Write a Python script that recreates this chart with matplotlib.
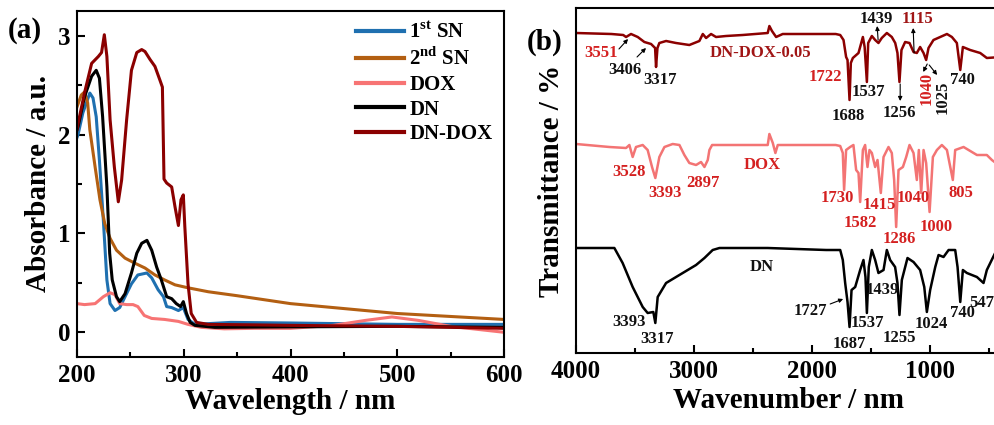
import matplotlib
matplotlib.use("Agg")
import matplotlib.pyplot as plt
from matplotlib.ticker import MultipleLocator, NullLocator

plt.rcParams['font.family'] = ['Liberation Serif', 'DejaVu Serif']
plt.rcParams['font.weight'] = 'bold'
plt.rcParams['mathtext.fontset'] = 'custom'
plt.rcParams['mathtext.rm'] = 'Liberation Serif:bold'
plt.rcParams['mathtext.bf'] = 'Liberation Serif:bold'

# ---------------- (a) UV-Vis data ----------------
wl_sn1 = [200, 201, 205.5, 212, 215, 218, 221, 224.7, 228, 231, 235.6, 240, 245, 251, 257, 265.5, 270,
          276, 281, 284, 288.7, 295, 299.6, 304, 310.5, 344, 400, 500, 600]
abs_sn1 = [1.97, 2.00, 2.22, 2.42, 2.37, 2.18, 1.74, 1.13, 0.53, 0.29, 0.22, 0.25, 0.36, 0.49, 0.58, 0.60, 0.55,
           0.43, 0.36, 0.26, 0.25, 0.22, 0.25, 0.13, 0.08, 0.10, 0.094, 0.08, 0.08]

wl_sn2 = [200, 204, 207, 210, 212, 217, 221.5, 226, 231, 237, 245, 254, 263.7, 273, 282, 291.8, 304, 323,
          350, 400, 450, 500, 550, 600]
abs_sn2 = [2.28, 2.40, 2.43, 2.32, 2.05, 1.67, 1.34, 1.10, 0.95, 0.83, 0.75, 0.70, 0.65, 0.58, 0.53, 0.48, 0.45,
           0.41, 0.37, 0.29, 0.24, 0.19, 0.16, 0.13]

wl_dox = [200, 207, 217, 224.7, 231, 235.6, 240, 246.5, 252.5, 257, 263, 270, 282, 295, 304, 316.5, 338, 366,
          400, 440, 470, 495, 520, 550, 600]
abs_dox = [0.29, 0.28, 0.29, 0.36, 0.40, 0.38, 0.29, 0.28, 0.28, 0.26, 0.17, 0.14, 0.13, 0.11, 0.08, 0.05, 0.035,
           0.04, 0.04, 0.07, 0.12, 0.155, 0.12, 0.06, 0.0]

wl_dn = [200, 201, 207, 213.7, 218, 221, 224, 228, 230.6, 233, 237, 240, 245, 251, 256, 260.6, 265.5, 270,
         274.6, 279, 284, 288.7, 293, 297, 299.6, 302.6, 306, 310.5, 329, 400, 500, 600]
abs_dn = [2.05, 2.08, 2.38, 2.59, 2.65, 2.57, 2.18, 1.47, 0.80, 0.53, 0.36, 0.31, 0.39, 0.60, 0.80, 0.90, 0.93,
          0.83, 0.66, 0.53, 0.36, 0.34, 0.29, 0.26, 0.31, 0.19, 0.10, 0.07, 0.05, 0.055, 0.06, 0.05]

wl_dndox = [200, 201, 207, 213.7, 220, 223, 225.6, 228, 231, 235, 238.7, 241.8, 246.5, 251, 256, 260.6, 263.7,
            268.4, 273, 277.7, 280, 281.5, 284, 288.7, 291.8, 295, 297.4, 299.6, 301, 304, 307, 312, 323, 366,
            400, 500, 600]
abs_dndox = [2.05, 2.11, 2.42, 2.72, 2.79, 2.83, 3.01, 2.79, 2.15, 1.67, 1.32, 1.54, 2.15, 2.65, 2.83, 2.86, 2.84,
             2.76, 2.69, 2.55, 2.48, 1.55, 1.51, 1.47, 1.27, 1.08, 1.34, 1.39, 1.07, 0.49, 0.19, 0.10, 0.08, 0.075,
             0.07, 0.06, 0.04]

uv_labels = ['1$^{\\mathrm{st}}$ SN', '2$^{\\mathrm{nd}}$ SN', 'DOX', 'DN', 'DN-DOX']
uv_colors = ['#1f70b0', '#b35f12', '#f77474', '#000000', '#8b0000']

# ---------------- (b) FTIR data (transmittance, a.u., offset) ----------------
wn_dndox = [4000, 3700, 3600, 3576, 3534, 3477, 3421, 3364, 3330, 3322, 3310, 3294, 3237, 3153, 3040, 2955,
            2926, 2898, 2856, 2814, 2729, 2588, 2376, 2362, 2340, 2305, 2249, 1881, 1800, 1762, 1734, 1712,
            1700, 1683, 1672, 1655, 1607, 1570, 1555, 1536, 1525, 1494, 1466, 1438, 1410, 1367, 1325, 1296,
            1277, 1260, 1243, 1212, 1175, 1141, 1113, 1085, 1056, 1034, 1014, 972, 915, 858, 816, 774, 745,
            723, 661, 576, 520, 400]
t_dndox = [320, 319, 318, 316, 319, 316, 311, 309, 305, 286, 305, 310, 312, 310, 308, 312,
           319, 315, 319, 316, 317, 318, 320, 327, 322, 316, 319, 319, 319, 318, 313, 296,
           293, 253, 290, 295, 300, 316, 306, 271, 310, 317, 313, 310, 315, 320, 316, 310,
           300, 271, 303, 311, 310, 301, 300, 306, 300, 293, 305, 313, 316, 319, 316, 310, 283,
           306, 303, 300, 295, 296]

wn_dox = [4000, 3717, 3576, 3548, 3520, 3492, 3435, 3393, 3356, 3328, 3294, 3251, 3181, 3124, 3082, 3040,
          2983, 2941, 2912, 2884, 2870, 2847, 2729, 2376, 2362, 2333, 2311, 2291, 1881, 1800, 1762, 1740,
          1729, 1712, 1678, 1650, 1627, 1607, 1593, 1570, 1551, 1531, 1514, 1494, 1466, 1446, 1418, 1395,
          1353, 1325, 1305, 1288, 1268, 1231, 1203, 1175, 1141, 1113, 1096, 1076, 1056, 1034, 1005, 977,
          943, 901, 858, 808, 788, 717, 604, 520, 477, 400]
t_dox = [209, 206, 205, 208, 196, 206, 208, 203, 186, 175, 196, 206, 209, 208, 198, 190,
         188, 191, 186, 193, 203, 208, 208, 208, 219, 210, 200, 208, 208, 208, 207, 200,
         163, 203, 206, 208, 183, 180, 151, 203, 208, 186, 203, 200, 186, 193, 160, 196,
         206, 200, 173, 126, 183, 186, 196, 208, 200, 173, 203, 160, 203, 190, 141, 196,
         203, 208, 203, 173, 203, 206, 198, 198, 193, 186]

wn_dn = [4000, 3675, 3605, 3520, 3435, 3393, 3345, 3328, 3308, 3237, 3096, 2983, 2912, 2842, 2785, 2376,
         1881, 1762, 1740, 1720, 1700, 1683, 1666, 1635, 1593, 1565, 1548, 1536, 1520, 1494, 1466, 1438,
         1395, 1367, 1339, 1297, 1277, 1260, 1240, 1192, 1141, 1085, 1050, 1028, 1000, 957, 929, 887, 844,
         788, 768, 745, 723, 689, 604, 548, 520, 400]
t_dn = [105, 105, 90, 66, 46, 40, 41, 30, 56, 70, 80, 88, 95, 103, 105, 105,
        103, 103, 93, 70, 51, 26, 63, 66, 83, 93, 76, 40, 86, 103, 93, 80,
        83, 103, 93, 86, 70, 38, 73, 95, 91, 83, 66, 41, 63, 86, 98, 96, 103,
        103, 86, 51, 83, 80, 76, 70, 83, 112]

ftir_colors = ['#8b0000', '#f37474', '#000000']

# ---------------- figure ----------------
fig = plt.figure(figsize=(9.95, 4.25), dpi=100)

# (a)
axa = fig.add_axes([77 / 995, 1 - 357 / 425, (504 - 77) / 995, (357 - 11) / 425])
series = [(wl_sn1, abs_sn1), (wl_sn2, abs_sn2), (wl_dox, abs_dox), (wl_dn, abs_dn), (wl_dndox, abs_dndox)]
for (x, y), lab, c in zip(series, uv_labels, uv_colors):
    axa.plot(x, y, color=c, lw=2.2, label=lab)
axa.set_xlim(200, 600)
axa.set_ylim(-0.25, 3.25)
axa.xaxis.set_major_locator(MultipleLocator(100))
axa.xaxis.set_minor_locator(MultipleLocator(50))
axa.yaxis.set_major_locator(MultipleLocator(1))
axa.yaxis.set_minor_locator(MultipleLocator(0.5))
axa.tick_params(which='both', direction='in', labelsize=18, width=1.5)
axa.tick_params(which='major', length=6, pad=5)
axa.tick_params(which='minor', length=3.5)
for s in axa.spines.values():
    s.set_linewidth(1.5)
axa.set_xlabel('Wavelength / nm', fontsize=21, fontweight='bold', labelpad=1)
axa.set_ylabel('Absorbance / a.u.', fontsize=21, fontweight='bold', labelpad=4)
leg = axa.legend(loc='upper left', bbox_to_anchor=(356 / 995, 1 - 22 / 425), bbox_transform=fig.transFigure,
                 frameon=False, fontsize=15, handlelength=2.3, handletextpad=0.25, labelspacing=0.22,
                 borderpad=0, borderaxespad=0)
for line in leg.get_lines():
    line.set_linewidth(3)
fig.text(8 / 995, 1 - 30 / 425, '(a)', fontsize=21, fontweight='bold', va='center', ha='left')

# (b)
axb = fig.add_axes([576 / 995, 1 - 353 / 425, (1001 - 576) / 995, (353 - 8) / 425])
for (x, y), c in zip([(wn_dndox, t_dndox), (wn_dox, t_dox), (wn_dn, t_dn)], ftir_colors):
    axb.plot(x, y, color=c, lw=1.8)
axb.set_xlim(4000, 400)
axb.set_ylim(0, 345)
axb.xaxis.set_major_locator(MultipleLocator(1000))
axb.xaxis.set_minor_locator(MultipleLocator(500))
axb.yaxis.set_major_locator(NullLocator())
axb.tick_params(which='both', direction='in', labelsize=18, width=1.5)
axb.tick_params(which='major', length=6, pad=5)
axb.tick_params(which='minor', length=3.5)
for s in axb.spines.values():
    s.set_linewidth(1.5)
axb.set_xlabel('Wavenumber / nm', fontsize=21, fontweight='bold', labelpad=3)
axb.set_ylabel('Transmittance / %', fontsize=21, fontweight='bold', labelpad=8)
fig.text(527 / 995, 1 - 42 / 425, '(b)', fontsize=21, fontweight='bold', va='center', ha='left')

RED = '#d42020'
DRED = '#a01515'
BLK = '#111111'
labels_b = [
    ('3551', 3791, 300, RED, 0), ('3406', 3585, 283, BLK, 0), ('3317', 3288, 273, BLK, 0),
    ('DN-DOX-0.05', 2441, 300, DRED, 0), ('1722', 1890, 276, RED, 0), ('1537', 1525, 261, BLK, 0),
    ('1688', 1695, 237, BLK, 0), ('1256', 1263, 240, BLK, 0), ('1439', 1458, 334, BLK, 0),
    ('1115', 1110, 334, DRED, 0), ('1040', 1034, 265, RED, 90), ('1025', 898, 256, BLK, 90),
    ('740', 729, 273, BLK, 0),
    ('3528', 3551, 181, RED, 0), ('3393', 3246, 160, RED, 0), ('2897', 2924, 170, RED, 0),
    ('DOX', 2424, 188, RED, 0), ('1730', 1788, 155, RED, 0), ('1582', 1593, 130, RED, 0),
    ('1415', 1432, 148, RED, 0), ('1040', 1144, 155, RED, 0), ('1286', 1263, 114, RED, 0),
    ('1000', 949, 126, RED, 0), ('805', 737, 160, RED, 0),
    ('DN', 2424, 86, BLK, 0), ('3393', 3551, 31, BLK, 0), ('3317', 3314, 14, BLK, 0),
    ('1727', 2017, 42, BLK, 0), ('1537', 1534, 30, BLK, 0), ('1687', 1686, 9, BLK, 0),
    ('1439', 1407, 63, BLK, 0), ('1255', 1263, 15, BLK, 0), ('1024', 992, 29, BLK, 0),
    ('740', 729, 40, BLK, 0), ('547', 560, 50, BLK, 0),
]
for txt, x, y, c, rot in labels_b:
    axb.text(x, y, txt, color=c, fontsize=12, fontweight='bold', ha='center', va='center',
             rotation=rot, clip_on=False)

arrows_b = [
    ((3636, 304), (3559, 314)), ((3483, 296), (3407, 305)), ((1441, 313), (1449, 327)),
    ((1136, 300), (1144, 325)), ((1254, 269), (1254, 252)), ((1025, 289), (1059, 281)),
    ((1008, 288), (941, 278)), ((1847, 49), (1737, 54)),
]
for tail, head in arrows_b:
    axb.annotate('', xy=head, xytext=tail,
                 arrowprops=dict(arrowstyle='-|>', color='black', lw=0.8, mutation_scale=6,
                                 shrinkA=0, shrinkB=0))

fig.savefig('out.png', dpi=100)
